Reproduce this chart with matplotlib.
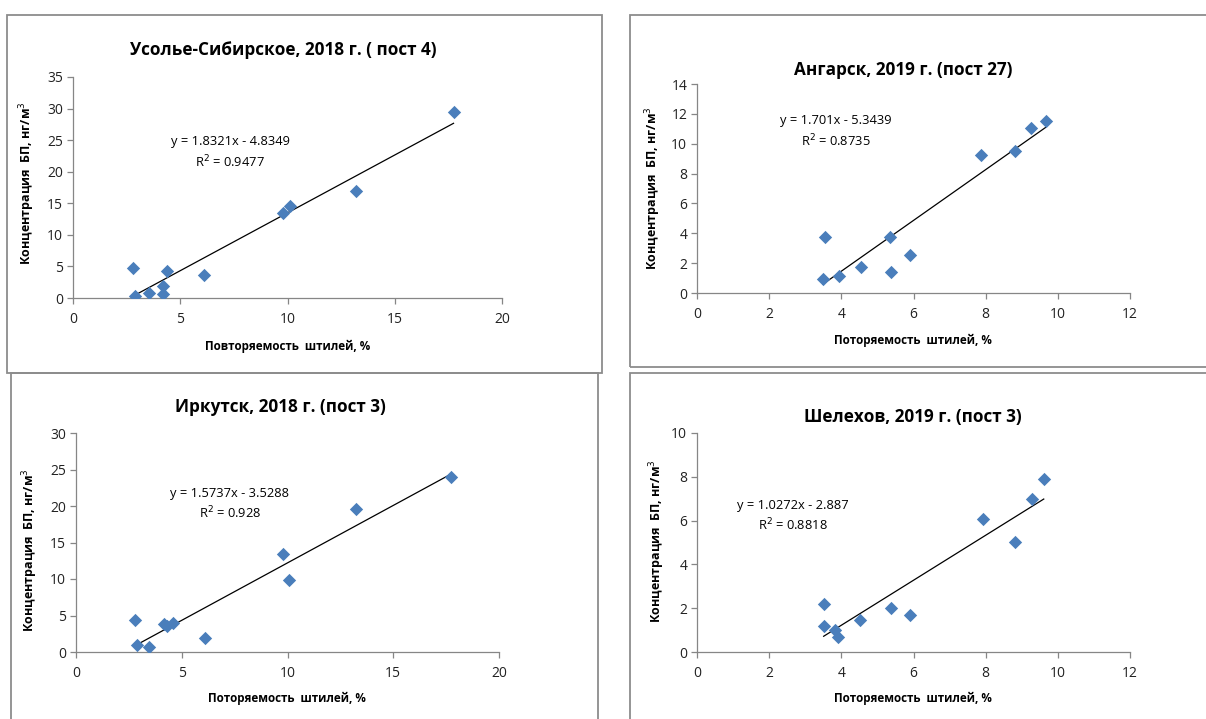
import matplotlib.pyplot as plt
from matplotlib.patches import Rectangle
import numpy as np

W, H = 1206, 719
plt.rcParams['font.family'] = ['Open Sans', 'DejaVu Sans']

# --- data ---
titles = ['Усолье-Сибирское, 2018 г. ( пост 4)', 'Ангарск, 2019 г. (пост 27)',
          'Иркутск, 2018 г. (пост 3)', 'Шелехов, 2019 г. (пост 3)']
xlabels = ['Повторяемость  штилей, %', 'Потоpяемость  штилей, %',
           'Потоpяемость  штилей, %', 'Потоpяемость  штилей, %']
ylabel = 'Концентрация  БП, нг/м$^3$'

usolye_x = [2.80, 2.88, 3.52, 4.18, 4.18, 4.36, 6.13, 9.80, 10.12, 13.20, 17.74]
usolye_y = [4.7, 0.3, 0.75, 0.7, 1.9, 4.2, 3.7, 13.4, 14.6, 16.95, 29.4]

angarsk_x = [3.49, 3.56, 3.94, 4.54, 5.36, 5.39, 5.91, 7.86, 8.82, 9.27, 9.66]
angarsk_y = [0.92, 3.77, 1.14, 1.74, 3.75, 1.38, 2.55, 9.22, 9.53, 11.03, 11.54]

irkutsk_x = [2.81, 2.87, 3.47, 4.15, 4.28, 4.57, 6.12, 9.78, 10.09, 13.23, 17.71]
irkutsk_y = [4.44, 0.92, 0.73, 3.8, 3.53, 3.99, 1.92, 13.42, 9.85, 19.65, 24.0]

shelekhov_x = [3.52, 3.51, 3.83, 3.91, 4.51, 5.39, 5.91, 7.92, 8.82, 9.29, 9.61]
shelekhov_y = [2.21, 1.19, 1.0, 0.69, 1.44, 2.03, 1.69, 6.09, 5.02, 6.99, 7.89]

slopes = [1.8321, 1.701, 1.5737, 1.0272]
intercepts = [-4.8349, -5.3439, -3.5288, -2.887]
eq_text = ['y = 1.8321x - 4.8349', 'y = 1.701x - 5.3439',
           'y = 1.5737x - 3.5288', 'y = 1.0272x - 2.887']
r2_text = ['R$^2$ = 0.9477', 'R$^2$ = 0.8735', 'R$^2$ = 0.928', 'R$^2$ = 0.8818']

xs = [usolye_x, angarsk_x, irkutsk_x, shelekhov_x]
ys = [usolye_y, angarsk_y, irkutsk_y, shelekhov_y]
xlims = [(0, 20), (0, 12), (0, 20), (0, 12)]
ylims = [(0, 35), (0, 14), (0, 30), (0, 10)]
xsteps = [5, 2, 5, 2]
ysteps = [5, 2, 5, 2]

# --- layout in pixels ---
axes_px = [(73, 77, 502, 298), (697, 84, 1130, 293),
           (76, 433, 499, 652), (697, 433, 1130, 652)]
boxes_px = [(7, 15, 602, 373), (630, 15, 1210, 367),
            (11, 373, 598, 725), (630, 373, 1210, 725)]
title_px = [(283, 50), (903, 70), (280, 407), (913, 417)]
xlab_px = [(288, 346), (913, 340), (287, 698), (913, 698)]
ylab_px = [(27, 183), (653, 188), (30, 550), (657, 541)]
eq_pos = [(0.366, 0.706, 0.615), (0.321, 0.823, 0.727),
          (0.364, 0.726, 0.635), (0.222, 0.667, 0.58)]


def fx(x):
    return x / W


def fy(y):
    return 1 - y / H


fig = plt.figure(figsize=(W / 100, H / 100), dpi=100)
fig.patch.set_facecolor('white')

for b in boxes_px:
    fig.patches.append(Rectangle((fx(b[0]), fy(b[3])), fx(b[2] - b[0]), (b[3] - b[1]) / H,
                                 transform=fig.transFigure, fill=False,
                                 edgecolor='#8c8c8c', linewidth=1.3))

for i in range(4):
    x0, y0, x1, y1 = axes_px[i]
    ax = fig.add_axes([fx(x0), fy(y1), (x1 - x0) / W, (y1 - y0) / H])
    ax.scatter(xs[i], ys[i], marker='D', s=46, color='#4a7ebb', zorder=3, linewidths=0)
    tx = np.array([min(xs[i]), max(xs[i])])
    ax.plot(tx, slopes[i] * tx + intercepts[i], color='black', lw=0.9, zorder=2)

    ax.set_xlim(*xlims[i])
    ax.set_ylim(*ylims[i])
    ax.set_xticks(np.arange(xlims[i][0], xlims[i][1] + 0.1, xsteps[i]))
    ax.set_yticks(np.arange(ylims[i][0], ylims[i][1] + 0.1, ysteps[i]))
    for s in ['top', 'right']:
        ax.spines[s].set_visible(False)
    for s in ['left', 'bottom']:
        ax.spines[s].set_color('#868686')
        ax.spines[s].set_linewidth(0.9)
    ax.tick_params(axis='both', direction='out', length=4, width=0.9, color='#868686',
                   labelsize=10, labelcolor='#222222', pad=3)
    ax.tick_params(axis='x', pad=6)
    ax.set_facecolor('none')

    ex, ey, ry = eq_pos[i]
    ax.text(ex, ey, eq_text[i], transform=ax.transAxes, ha='center', va='center', fontsize=9.3)
    ax.text(ex, ry, r2_text[i], transform=ax.transAxes, ha='center', va='center', fontsize=9.3)

    fig.text(fx(title_px[i][0]), fy(title_px[i][1]), titles[i], ha='center', va='center',
             fontsize=12.3, fontweight='bold')
    fig.text(fx(xlab_px[i][0]), fy(xlab_px[i][1]), xlabels[i], ha='center', va='center',
             fontsize=8.4, fontweight='bold')
    fig.text(fx(ylab_px[i][0]), fy(ylab_px[i][1]), ylabel, ha='center', va='center',
             rotation=90, fontsize=9, fontweight='bold')

fig.savefig('out.png', dpi=100)
